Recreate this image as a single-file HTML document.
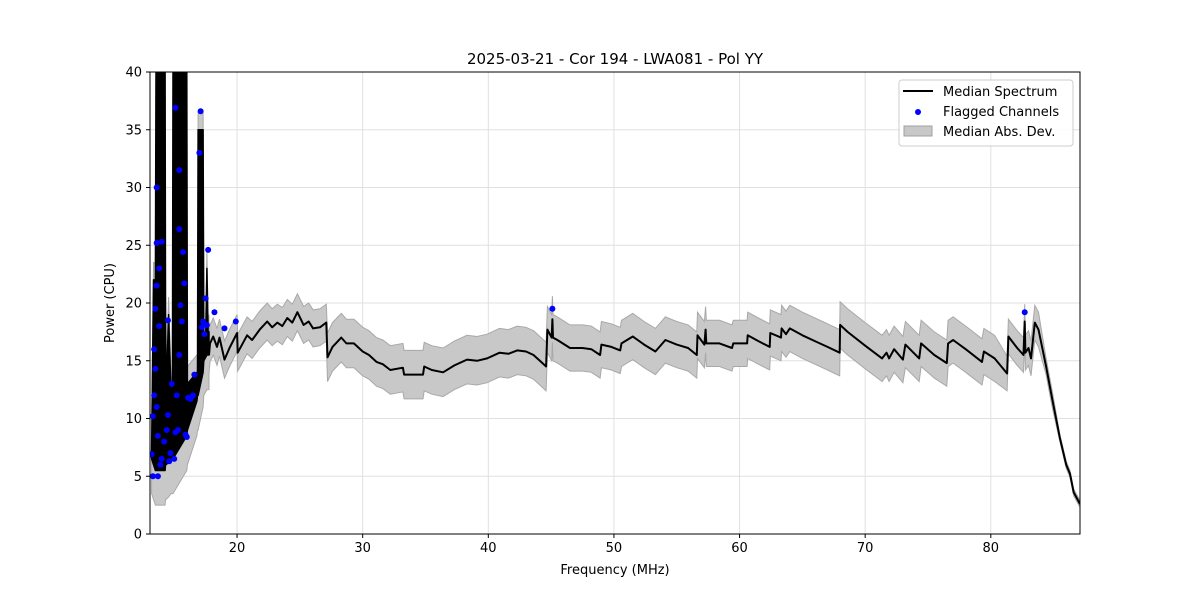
<!DOCTYPE html>
<html><head><meta charset="utf-8">
<style>
html,body{margin:0;padding:0;background:#fff;}
svg text{font-family:"DejaVu Sans","Liberation Sans",sans-serif;fill:#000;}
</style></head>
<body>
<svg id="chart" width="1200" height="600" viewBox="0 0 1200 600">
  <defs><clipPath id="plotclip"><rect x="150" y="72" width="930" height="462"/></clipPath></defs>
  <rect x="0" y="0" width="1200" height="600" fill="#fff"/>
  <g id="grid"></g>
  <g id="band" clip-path="url(#plotclip)"></g>
  <g id="line" clip-path="url(#plotclip)"></g>
  <g id="dots" clip-path="url(#plotclip)"></g>
  <rect x="150" y="72" width="930" height="462" fill="none" stroke="#000" stroke-width="1"/>
  <g id="axes"></g>
  <text x="615" y="64" font-size="15" text-anchor="middle">2025-03-21 - Cor 194 - LWA081 - Pol YY</text>
  <text x="615" y="574" font-size="13" text-anchor="middle">Frequency (MHz)</text>
  <text x="114" y="303" font-size="13" text-anchor="middle" transform="rotate(-90 114 303)">Power (CPU)</text>
  <g>
    <rect x="899" y="80" width="174" height="66" rx="3" fill="#fff" fill-opacity="0.85" stroke="#ccc"/>
    <line x1="903" y1="91" x2="933" y2="91" stroke="#000" stroke-width="2"/>
    <text x="943" y="96" font-size="13">Median Spectrum</text>
    <circle cx="918" cy="112" r="3" fill="#0000ff"/>
    <text x="943" y="116" font-size="13">Flagged Channels</text>
    <rect x="904" y="126" width="28" height="10" fill="#c8c8c8" stroke="#a0a0a0"/>
    <text x="943" y="136" font-size="13">Median Abs. Dev.</text>
  </g>
</svg>
<script>
const xTicks = [20,30,40,50,60,70,80];
const yTicks = [0,5,10,15,20,25,30,35,40];
// dense RFI region: upper / lower envelope of the median spectrum
const noiseFreqs = [13.2,13.35,13.5,13.55,14.27,14.3,14.35,14.55,14.75,14.85,14.9,16.0,16.05,16.8,16.85,16.9,17.3,17.35,17.5,17.6,17.7,17.77];
const noiseHi = [7,22,22,40,40,20,12,19,12,12,40,40,13,14,14,35,35,17,17,23,17,17.5];
const noiseLo = [6.5,6,5.5,5.5,5.5,6,6,6.2,6.5,6.5,6.5,8.5,9,11.5,12,12,14,15,15.3,15.5,15.5,15.5];
const freqs = [17.77,17.85,18.1,18.4,18.6,19.0,19.4,20.0,20.05,20.8,21.2,21.8,22.4,22.8,23.2,23.6,24,24.4,24.8,25.3,25.7,26.05,26.6,27.1,27.2,27.6,28.3,28.7,29.3,30.0,30.5,31.1,31.6,32.2,33.2,33.3,34.8,34.9,35.5,36.4,37.3,38.3,39.1,39.9,40.9,41.6,42.3,43.0,43.6,44.2,44.6,44.7,45.05,45.1,45.15,45.5,46.5,47.5,48.2,48.9,49.0,49.8,50.5,50.6,51.5,52.4,53.3,54.1,55.0,55.9,56.6,56.65,57.2,57.3,57.35,58.4,59.4,59.5,60.6,60.65,61.5,62.4,62.45,63.3,63.35,63.7,64.0,65.0,66.0,67.0,67.97,68.0,68.6,70.0,71.35,71.7,71.9,72.3,73.0,73.2,74.3,74.45,75.5,76.5,76.6,77.0,78.0,79.3,79.45,80.3,81.3,81.4,82.1,82.6,82.7,82.75,83.0,83.2,83.5,83.8,84.4,84.9,85.5,86,86.3,86.6,87.1];
const medians = [15.5,16.5,17.1,16.2,17.0,15.1,16.1,17.4,15.7,17.2,16.8,17.7,18.4,17.9,18.3,18.0,18.7,18.3,19.2,18.1,18.4,17.8,17.9,18.3,15.3,16.2,17.0,16.5,16.5,15.8,15.5,14.9,14.7,14.2,14.4,13.8,13.8,14.5,14.2,14.0,14.6,15.1,15.0,15.2,15.7,15.6,15.9,15.8,15.5,14.9,14.5,17.7,17.0,18.6,17.0,16.8,16.1,16.1,16.0,15.5,16.4,16.2,15.9,16.5,17.1,16.4,15.8,16.8,16.4,16.1,15.5,17.2,16.4,17.7,16.5,16.5,16.1,16.5,16.5,17.2,16.7,16.2,17.4,17.0,17.8,17.3,17.8,17.2,16.7,16.2,15.7,18.1,17.5,16.3,15.2,15.7,15.2,16.0,15.1,16.4,15.2,16.5,15.5,14.8,16.5,16.8,16.0,14.9,15.8,15.2,13.9,17.1,16.1,15.5,18.4,15.7,16.1,15.2,18.3,17.7,14.5,11.6,8.3,6,5.2,3.6,2.6];
const madBreaks = [0,27.2,44.7,81.3,84,85];
const madVals = [1.6,2.1,2.0,1.5,0.7,0.3];
const flagFreqs = [13.2,13.3,13.3,13.4,13.4,13.5,13.5,13.6,13.6,13.7,13.7,13.8,13.8,13.9,14.0,14.2,14.4,14.5,14.5,14.6,14.7,14.8,15.0,15.1,15.2,15.3,15.4,15.5,15.6,15.7,15.8,15.9,16.0,16.1,16.3,16.5,16.6,17.2,17.3,17.4,17.5,17.6,13.6,13.6,14.0,15.1,15.4,15.4,17.0,17.1,17.7,18.2,19.0,19.9,45.1,82.7];
const flagVals = [6.9,5,10.2,12,16,14.3,19.5,21.5,11,5,8.5,18,23,6,6.5,8,9,10.3,18.5,6.3,7,13,6.5,8.8,12,9,15.5,19.8,18.4,24.4,21.7,8.6,8.4,11.8,11.7,12,13.8,17.9,18.4,17.3,20.4,18.1,30,25.2,25.3,36.9,31.5,26.4,33,36.6,24.6,19.2,17.8,18.4,19.5,19.2];

const X0=150,X1=1080,Y0=534,Y1=72, FMIN=13.07,FMAX=87.1, PMIN=0,PMAX=40;
function xs(f){return X0+(f-FMIN)/(FMAX-FMIN)*(X1-X0);}
function ys(p){return Y0-(p-PMIN)/(PMAX-PMIN)*(Y0-Y1);}
function madAt(f){let v=madVals[0];for(let i=0;i<madBreaks.length;i++){if(f>=madBreaks[i])v=madVals[i];}return v;}
function P(f,v){return xs(f).toFixed(1)+','+ys(v).toFixed(1);}
const NS='http://www.w3.org/2000/svg';
function mk(tag,attrs,parent){const e=document.createElementNS(NS,tag);for(const k in attrs)e.setAttribute(k,attrs[k]);parent.appendChild(e);return e;}

const grid=document.getElementById('grid'), axes=document.getElementById('axes');
xTicks.forEach(t=>{
  const gl=mk('line',{x1:xs(t),x2:xs(t),y1:Y1,y2:Y0,stroke:'#e0e0e0','stroke-width':1},grid);
  
  
  const tk=mk('line',{x1:xs(t),x2:xs(t),y1:Y0,y2:Y0+4,stroke:'#000'},axes);
  
  
  const tl=mk('text',{x:xs(t),y:Y0+18,'font-size':13,'text-anchor':'middle'},axes);
  tl.textContent=t;
  
  
});
yTicks.forEach(t=>{
  const gl=mk('line',{x1:X0,x2:X1,y1:ys(t),y2:ys(t),stroke:'#e0e0e0','stroke-width':1},grid);
  
  
  const tk=mk('line',{x1:X0-4,x2:X0,y1:ys(t),y2:ys(t),stroke:'#000'},axes);
  
  
  const tl=mk('text',{x:X0-8,y:ys(t)+4.5,'font-size':13,'text-anchor':'end'},axes);
  tl.textContent=t;
  
  
});

let up='',dn='';
noiseFreqs.forEach((f,i)=>{up+=(i?'L':'M')+P(f,Math.min(41,noiseHi[i]+1.5));});
freqs.forEach((f,i)=>{up+='L'+P(f,medians[i]+madAt(f));});
for(let i=freqs.length-1;i>=0;i--){dn+='L'+P(freqs[i],Math.max(0,medians[i]-madAt(freqs[i])));}
for(let i=noiseFreqs.length-1;i>=0;i--){dn+='L'+P(noiseFreqs[i],noiseLo[i]-3);}
const band=mk('path',{d:up+dn+'Z',fill:'#c8c8c8',stroke:'#a8a8a8','stroke-width':1},document.getElementById('band'));



let nd='';
noiseFreqs.forEach((f,i)=>{nd+=(i?'L':'M')+P(f,noiseHi[i]);});
for(let i=noiseFreqs.length-1;i>=0;i--){nd+='L'+P(noiseFreqs[i],noiseLo[i]);}
const noise=mk('path',{d:nd+'Z',fill:'#000',stroke:'#000','stroke-width':1.5,'stroke-linejoin':'round'},document.getElementById('line'));



let d='';
freqs.forEach((f,i)=>{d+=(i?'L':'M')+P(f,medians[i]);});
const ln=mk('path',{d:d,fill:'none',stroke:'#000','stroke-width':2,'stroke-linejoin':'round'},document.getElementById('line'));



const dots=document.getElementById('dots');
flagFreqs.forEach((f,i)=>{
  const c=mk('circle',{cx:xs(f),cy:ys(flagVals[i]),r:3,fill:'#0000ff'},dots);
  
  
});
</script>
</body></html>
